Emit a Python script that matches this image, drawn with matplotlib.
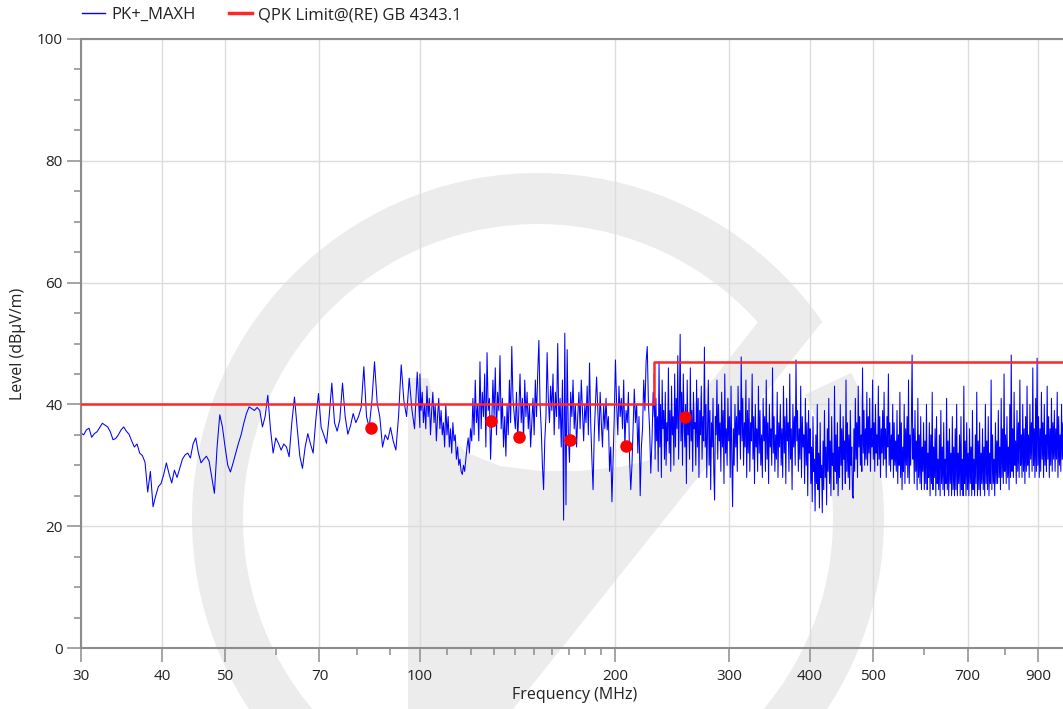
import numpy as np
import matplotlib.pyplot as plt
from matplotlib.patches import Wedge, Polygon
from matplotlib.lines import Line2D
from matplotlib.ticker import FixedLocator, NullFormatter, FixedFormatter

plt.rcParams['font.family'] = ['Open Sans', 'DejaVu Sans']

# PK+_MAXH trace (points log-spaced in each piece)
lvl_30_100 = [
    35.3, 35.0, 35.8, 36.1, 34.6, 35.2, 35.5, 36.2, 36.9, 36.6,
    36.3, 35.5, 34.2, 34.4, 35.0, 35.8, 36.3, 35.6, 35.1, 34.0,
    33.0, 33.5, 32.0, 31.6, 30.5, 25.6, 29.0, 23.2, 25.0, 26.5,
    27.0, 28.5, 30.4, 28.6, 27.1, 29.2, 28.0, 29.5, 31.0, 31.7,
    32.0, 31.2, 33.5, 34.5, 32.0, 30.4, 31.0, 31.5, 30.7, 28.0,
    25.4, 33.0, 38.3, 36.3, 33.0, 30.0, 28.9, 30.4, 32.0, 33.6,
    35.0, 36.9, 38.5, 39.6, 39.3, 39.0, 39.5, 39.0, 36.3, 38.0,
    41.5, 36.0, 32.0, 34.5, 33.6, 32.5, 33.5, 33.0, 31.4, 37.0,
    41.2, 36.2, 31.5, 29.5, 33.0, 35.2, 33.5, 32.0, 37.5, 41.8,
    36.2, 35.0, 33.6, 38.0, 43.5, 37.0, 35.6, 37.5, 43.5, 38.0,
    35.1, 36.5, 38.5, 37.0, 38.0, 39.5, 46.2, 38.0, 36.2, 40.5,
    47.0, 40.2, 37.9, 33.0, 35.0, 34.2, 36.2, 34.0, 32.5, 38.0,
    46.5, 40.6, 38.0, 44.3, 39.2, 36.0, 45.3, 36.2,
]
lvl_100_230 = [
    45, 39, 42, 37, 40, 36, 43, 38, 41, 35, 39, 42, 37, 40, 34, 38, 41, 36, 39, 35,
    37, 33, 40, 35, 38, 33, 36, 32, 37, 34, 35, 31, 33, 30, 31, 29, 28.5, 30, 29, 31,
    33, 34.5, 32, 36, 34, 41, 35, 44, 37, 40, 34, 47, 36, 42, 38, 45, 33, 48.5, 39, 41,
    31, 37, 44, 38, 46, 35, 42, 39, 48, 36, 41, 33, 38, 31.5, 40, 35, 44, 37, 49.5, 41,
    38.5, 36, 42, 34, 39, 45, 37, 41, 34, 44, 38, 42, 36, 40, 33, 37, 41, 35, 44, 38,
    45, 50.5, 40, 36, 30, 26, 34, 38, 48.5, 41, 37, 43, 39, 45, 35, 42, 38, 50, 36, 41,
    33, 44, 21, 51.7, 23.5, 49, 35, 30.5, 42, 38, 44, 36, 40, 33, 38, 42, 36, 44, 39, 34,
    40, 37, 43, 35, 46.8, 37, 31, 26, 35, 40, 44.5, 39, 34, 42, 37, 33, 40, 36, 41, 35.8,
    38, 29, 33, 24, 31, 38, 47.3, 40, 35, 43, 38, 41, 36, 44, 33, 39, 37, 42, 31, 26,
    30, 36, 42.5, 37, 40, 32, 38, 25, 33, 36, 44, 39, 47, 49.5, 40, 36, 28.7, 34, 42, 38,
]
lvl_230_400 = [
    45, 31, 41, 34, 38, 29, 47, 33, 40, 28, 44, 36, 39, 31, 42, 30, 37, 34, 46, 32,
    39, 29, 43, 35, 38, 30, 45, 33, 41, 36, 48, 31, 39, 51.5, 34, 42, 30, 45, 37, 33,
    40, 27, 44, 35, 38, 31, 46, 34, 39, 29, 42, 36, 37, 30, 44, 33, 41, 28, 39, 35,
    43, 31, 38, 34, 49.4, 33, 40, 28, 36, 44, 30, 39, 26, 37, 33, 41, 29, 24.3, 38, 35,
    44, 31, 40, 34, 37, 29, 42, 33, 39, 27, 45, 32, 36, 30, 41, 34, 38, 28, 43, 31,
    23.2, 36, 30, 40, 33, 38, 29, 43, 35, 39, 31, 47.8, 34, 41, 30, 37, 33, 44, 28, 39,
    32, 41, 29, 37, 34, 45, 31, 38, 27, 40, 33, 36, 29, 43, 32, 39, 30, 35, 28, 41,
    34, 38, 29, 44, 31, 37, 27, 40, 33, 36, 30, 46, 32, 38, 29, 35, 31, 42, 28, 37,
    33, 40, 30, 36, 28, 43, 32, 38, 27, 41, 34, 37, 29, 45, 31, 36, 26, 40, 33, 38,
    30, 47.3, 34, 39, 29, 36, 31, 43, 28, 38, 33, 35, 27, 41, 30, 37, 25, 39, 32, 34,
]
lvl_400_1000 = [
    36, 27, 33, 24, 38, 29, 31, 22.5, 35, 27, 40, 26, 32, 23, 37, 28, 30, 22.2, 34, 26,
    39, 28, 33, 23.5, 36, 29, 41, 27, 34, 25, 38, 30, 32, 26, 43, 29, 35, 27, 37, 25,
    33, 28, 40, 30, 36, 26, 38, 31, 34, 27, 44, 29, 37, 28, 35, 26, 39, 30, 33, 25,
    24.6, 36, 29, 41, 31, 37, 28, 43, 33, 38, 30, 35, 29, 46, 32, 39, 30, 36, 31, 42,
    30, 38, 32, 41, 29, 36, 33, 44, 31, 37, 29, 40, 32, 35, 30, 43, 31, 38, 28, 36,
    32, 39, 30, 42, 31, 36, 28, 38, 33, 45, 30, 37, 29, 35, 31, 40, 28, 37, 30, 34,
    29, 39, 27, 35, 30, 42, 28, 37, 26, 33, 29, 40, 27, 36, 30, 38, 28, 44, 27, 35,
    30, 37, 48.1, 31, 36, 27, 39, 29, 34, 26, 41, 28, 35, 27, 38, 26, 33, 29, 37, 26,
    34, 27, 40, 26, 32, 28, 37, 25, 35, 27, 42, 26, 33, 28, 36, 25, 38, 27, 31, 26,
    35, 25, 39, 27, 33, 26, 37, 25, 31, 27, 41, 26, 34, 25, 36, 27, 32, 25, 38, 26,
    33, 25, 36, 26, 40, 25, 32, 27, 35, 25, 38, 26, 31, 25, 43, 27, 34, 25, 37, 26,
    32, 25, 36, 27, 33, 25, 39, 26, 31, 25, 35, 27, 42, 25, 34, 26, 37, 25, 32, 27,
    36, 26, 33, 25, 40, 27, 34, 26, 38, 25, 32, 27, 44, 26, 35, 27, 31, 25, 37, 27,
    34, 27, 39, 28, 33, 26, 41, 28, 36, 27, 45, 29, 35, 27, 38, 28, 33, 26, 40, 28,
    48.1, 29, 36, 28, 42, 30, 34, 27, 39, 29, 37, 28, 44, 30, 35, 28, 40, 29, 36, 27,
    38, 29, 43, 30, 35, 28, 40, 31, 37, 29, 46, 30, 36, 28, 41, 29, 47.6, 30, 38, 28,
    36, 29, 42, 31, 37, 28, 40, 30, 35, 29, 43, 31, 38, 28, 36, 30, 41, 29, 37, 31,
    39, 29, 36, 31, 42, 28, 38, 30, 35, 29, 40, 31, 37, 28, 39, 30, 36, 29, 38, 31,
]

# QPK limit GB 4343.1
limit_freq = [30, 230, 230, 1000]
limit_level = [40, 40, 47, 47]

# quasi-peak final measurement points
qp_freq = [84.1, 128.8, 142.3, 170.5, 208.0, 256.6]
qp_level = [36.1, 37.2, 34.6, 34.2, 33.1, 37.9]

x_major = [30, 40, 50, 70, 100, 200, 300, 400, 500, 700, 900]
x_minor = [60, 80, 90, 110, 120, 130, 140, 150, 160, 170, 180, 190, 600, 800]

freq = np.concatenate([
    np.geomspace(30, 100, len(lvl_30_100)),
    np.geomspace(100, 230, len(lvl_100_230)),
    np.geomspace(230, 400, len(lvl_230_400)),
    np.geomspace(400, 1000, len(lvl_400_1000)),
])
level = np.concatenate([lvl_30_100, lvl_100_230, lvl_230_400, lvl_400_1000])

W, H = 1063, 709
fig = plt.figure(figsize=(W / 100, H / 100), dpi=100)

# faint logo watermark behind the plot (pixel coordinates)
bg = fig.add_axes([0, 0, 1, 1], zorder=0)
bg.set_xlim(0, W)
bg.set_ylim(H, 0)
bg.axis('off')
grey = '#ececec'
bg.add_patch(Wedge((538, 519), 346, -25, 325.3, width=51, color=grey, lw=0))
bg.add_patch(Polygon([(408, 709), (408, 378), (428, 378), (440, 420), (465, 452),
                      (500, 466), (540, 471), (580, 471), (620, 467), (650, 460),
                      (758, 322), (822, 322), (513, 709)], closed=True, color=grey, lw=0))

ax = fig.add_axes([81 / W, (H - 648) / H, 987 / W, 609 / H], zorder=1)
ax.set_facecolor('none')

ax.plot(freq, level, color='#0000ff', lw=0.75, zorder=2)
ax.plot(limit_freq, limit_level, color='#ff2828', lw=1.8, zorder=3)
ax.plot(qp_freq, qp_level, 'o', color='#ff0000', ms=9, mec='none', zorder=4)

ax.set_xscale('log')
ax.set_xlim(30, 1000)
ax.set_ylim(0, 100)
ax.xaxis.set_major_locator(FixedLocator(x_major))
ax.xaxis.set_major_formatter(FixedFormatter([str(v) for v in x_major]))
ax.xaxis.set_minor_locator(FixedLocator(x_minor))
ax.xaxis.set_minor_formatter(NullFormatter())
ax.set_yticks([0, 20, 40, 60, 80, 100])
ax.set_yticks(np.arange(0, 101, 5), minor=True)

ax.grid(True, which='major', color='#dcdcdc', lw=1)
ax.set_axisbelow(True)

spine_c = '#8c8c8c'
for s in ['left', 'bottom', 'top']:
    ax.spines[s].set_color(spine_c)
    ax.spines[s].set_linewidth(1.5)
ax.spines['right'].set_visible(False)
ax.tick_params(which='major', length=10, width=1.1, color=spine_c, labelsize=11,
               labelcolor='#222222', pad=3)
ax.tick_params(which='minor', length=5, width=1.1, color=spine_c)
ax.tick_params(axis='x', which='major', pad=5)

ax.set_xlabel('Frequency (MHz)', fontsize=11.5, color='#222222', labelpad=2)
ax.set_ylabel('Level (dBµV/m)', fontsize=11.5, color='#222222', labelpad=8)

handles = [Line2D([], [], color='#0000ff', lw=1),
           Line2D([], [], color='#ff2828', lw=2.5)]
fig.legend(handles, ['PK+_MAXH', 'QPK Limit@(RE) GB 4343.1'], loc='upper left',
           bbox_to_anchor=(82 / W, 1 - 7 / H), ncol=2, frameon=False, fontsize=12,
           borderpad=0, borderaxespad=0, handlelength=1.4, handletextpad=0.35,
           columnspacing=2.0, labelcolor='#222222')

fig.savefig('out.png', dpi=100)
